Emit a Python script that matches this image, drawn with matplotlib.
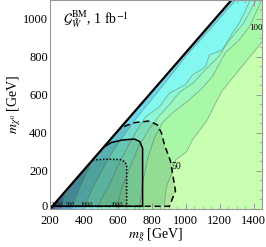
import matplotlib
matplotlib.use("Agg")
import matplotlib.pyplot as plt
from matplotlib.patches import Polygon
from matplotlib.ticker import MultipleLocator
from matplotlib.transforms import ScaledTranslation

plt.rcParams['font.family'] = ['Liberation Serif', 'DejaVu Serif']
plt.rcParams['mathtext.fontset'] = 'stix'

# ---- data (m_gluino, m_chi) in GeV ----
diag_mg = [200, 1270]
diag_mchi = [0, 1100]

# contour boundaries, outermost first, with fill colour on their left side
c50_mg = [1490, 1445, 1315, 1210, 1127, 1040, 1004, 940, 921, 886, 875, 875]
c50_mchi = [924, 874, 732, 616, 468, 363, 300, 258, 195, 116, 32, 0]

c100_mg = [1450, 1440, 1375, 1315, 1233, 1156, 1085, 1021, 921, 862, 814, 774, 744, 728]
c100_mchi = [1100, 1084, 958, 889, 821, 695, 626, 574, 505, 453, 370, 260, 130, 0]

cm_mg = [1415, 1380, 1340, 1300, 1238, 1198, 1147, 1097, 1046, 965, 905, 844, 784, 723, 673, 623, 593]
cm_mchi = [1100, 1040, 975, 935, 865, 805, 760, 715, 665, 615, 550, 490, 420, 330, 220, 110, 0]

cc_mg = [1381, 1346, 1316, 1275, 1216, 1139, 1116, 1039, 998, 904, 845, 762, 703, 653, 602, 552, 501, 481]
cc_mchi = [1100, 1032, 979, 926, 837, 810, 747, 705, 653, 610, 537, 484, 400, 320, 230, 130, 50, 0]

ca_mg = [1295, 1158, 1006, 875, 784, 693, 612, 541, 481, 430, 400]
ca_mchi = [1100, 960, 810, 660, 560, 460, 360, 260, 160, 70, 0]

ce0_mg = [482, 431, 380, 345, 330]
ce0_mchi = [330, 220, 120, 50, 0]

ce1_mg = [300, 290, 280, 270]
ce1_mchi = [200, 100, 50, 0]

ce2_mg = [220, 240, 235, 229]
ce2_mchi = [100, 40, 20, 0]

contours = [
    (c50_mg, c50_mchi, '#A8F8A8'),
    (c100_mg, c100_mchi, '#9CF8BC'),
    (cm_mg, cm_mchi, '#8EF8D6'),
    (cc_mg, cc_mchi, '#82F8F0'),
    (ca_mg, ca_mchi, '#6CD8F0'),
    (ce0_mg, ce0_mchi, '#58A8E0'),
    (ce1_mg, ce1_mchi, '#4880C8'),
    (ce2_mg, ce2_mchi, '#3A60A8'),
]

# exclusion regions
dash_mg = [585, 652, 703, 786, 834, 857, 875, 910, 940, 904, 875, 190]
dash_mchi = [410, 440, 455, 463, 442, 400, 337, 253, 95, 14, 14, 14]

solid_mg = [470, 516, 562, 627, 698, 729, 746, 746, 190]
solid_mchi = [300, 325, 350, 363, 368, 355, 320, 14, 14]

dot_mg = [420, 445, 541, 617, 642, 652, 652, 190]
dot_mchi = [240, 258, 262, 260, 248, 228, 14, 14]

bottom_labels = ["2000", "500", "1000", "2000"]
bottom_label_mg = [241, 322, 415, 592]

fig = plt.figure(figsize=(2.66, 2.47), dpi=100)
ax = fig.add_axes([0.188, 0.154, 0.797, 0.846])
ax.set_xlim(200, 1450)
ax.set_ylim(0, 1100)
ax.set_facecolor('#C8FFB0')

for mg, mc, col in contours:
    pts = [(mg[0], 1300)] + list(zip(mg, mc)) + [(mg[-1], -100), (100, -100), (100, 1300)]
    ax.add_patch(Polygon(pts, closed=True, facecolor=col, edgecolor='none', zorder=1))
    ax.plot(mg, mc, color='#6E9478', lw=0.5, alpha=0.85, zorder=2)

ov = '#2A5A30'
for mg, mc, ls in [(dash_mg, dash_mchi, (0, (4, 2.5))), (solid_mg, solid_mchi, '-'), (dot_mg, dot_mchi, (0, (1, 1.2)))]:
    ax.add_patch(Polygon(list(zip(mg, mc)), closed=True, facecolor=ov, alpha=0.17,
                         edgecolor='none', zorder=3))
    ax.add_patch(Polygon(list(zip(mg, mc)), closed=True, facecolor='none',
                         edgecolor='black', lw=1.1, linestyle=ls, zorder=4))

# white (kinematically forbidden) region
ax.add_patch(Polygon([(diag_mg[0], diag_mchi[0]), (diag_mg[1], diag_mchi[1]), (diag_mg[1], 1300),
                      (100, 1300), (100, -100), (diag_mg[0], -100)],
                     closed=True, facecolor='white', edgecolor='none', zorder=5))
ax.plot(diag_mg, diag_mchi, color='black', lw=1.6, zorder=6)

for lab, x in zip(bottom_labels, bottom_label_mg):
    ax.text(x, 22, lab, fontsize=4.5, ha='center', va='center', zorder=7)
ax.text(1415, 950, "100", fontsize=6.5, ha='center', va='center', zorder=7)
ax.text(946, 225, "50", fontsize=7, ha='center', va='center', zorder=7)

ax.text(277, 1000, r"$\mathcal{G}^{\rm BM}_{\tilde{W}}$, 1 fb$^{-1}$", fontsize=10,
        ha='left', va='center', zorder=7)

ax.set_xlabel(r"$m_{\tilde{g}}$ [GeV]", fontsize=10, labelpad=0)
ax.set_ylabel(r"$m_{\chi^0}$ [GeV]", fontsize=10, labelpad=0)

ax.xaxis.set_major_locator(MultipleLocator(200))
ax.xaxis.set_minor_locator(MultipleLocator(50))
ax.yaxis.set_major_locator(MultipleLocator(200))
ax.yaxis.set_minor_locator(MultipleLocator(50))
ax.tick_params(which='both', direction='in', top=True, right=True, color='#999999',
               labelsize=9)
ax.tick_params(axis='x', pad=4)
ax.tick_params(axis='y', pad=1.5)
ax.tick_params(which='major', length=4, width=0.7)
ax.tick_params(which='minor', length=2, width=0.5)
for s in ax.spines.values():
    s.set_color('#999999')
    s.set_linewidth(0.8)
    s.set_zorder(8)

fig.canvas.draw()
for t in ax.yaxis.get_major_ticks():
    if abs(t.get_loc()) < 1e-6:
        t.label1.set_transform(t.label1.get_transform() +
                               ScaledTranslation(0, 2.5 / 72, fig.dpi_scale_trans))

fig.savefig("out.png", dpi=100)
